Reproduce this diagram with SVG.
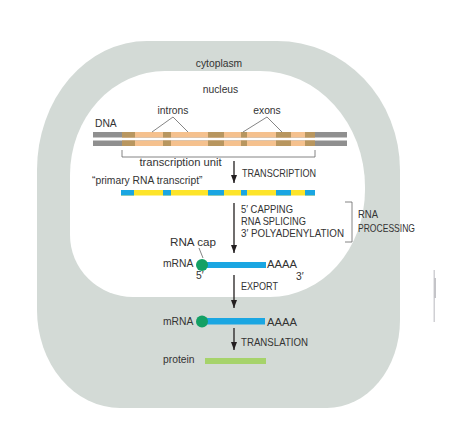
<svg xmlns="http://www.w3.org/2000/svg" width="460" height="428" viewBox="0 0 460 428">
<defs>
<style>
text{font-family:"Liberation Sans",Arial,sans-serif;fill:#333}
.lc{font-size:10.3px}
.cap{font-size:10.2px}
.lead{stroke:#666;stroke-width:0.8;fill:none}
.arrow{stroke:#231f20;stroke-width:1.3;fill:none;marker-end:url(#ah)}
.dna-gray{fill:#8f8f8f}
.dna-peach{fill:#f5c18e}
.dna-exon{fill:#b8965f}
.exon{fill:#1aa6e2}
.intron{fill:#fde42a}
.cap5{fill:#13a064}
</style>
<marker id="ah" viewBox="0 0 8 6" refX="8" refY="3" markerWidth="8" markerHeight="6" markerUnits="userSpaceOnUse" orient="auto"><path d="M0,0 L8,3 L0,6 Z" fill="#231f20"/></marker>
</defs>
<rect width="460" height="428" fill="#fff"/>
<g id="cytoplasm">
<path d="M147,41 H277 A123,129 0 0 1 400,170 V320 A73,88 0 0 1 327,408 H120 A83,98 0 0 1 37,310 V170 A110,129 0 0 1 147,41 Z" fill="#d3dad6"/>
<text class="lc" x="219" y="67" text-anchor="middle">cytoplasm</text>
</g>
<g id="nucleus">
<path d="M165,71 H260 A105,116 0 0 1 365,187 V190 A95,107 0 0 1 270,297 H133 A63,62 0 0 1 70,235 V175 A95,104 0 0 1 165,71 Z" fill="#fff"/>
<text class="lc" x="220.5" y="93" text-anchor="middle">nucleus</text>
</g>
<g id="dna">
<text class="lc" x="95" y="127">DNA</text>
<g>
<rect class="dna-gray" x="93" y="132" width="254" height="5.5"/>
<rect class="dna-gray" x="93" y="140.5" width="254" height="5.5"/>
<rect class="dna-peach" x="122" y="132" width="193" height="5.5"/>
<rect class="dna-peach" x="122" y="140.5" width="193" height="5.5"/>
<g class="dna-exon">
<rect x="122" y="132" width="13" height="5.5"/><rect x="122" y="140.5" width="13" height="5.5"/>
<rect x="163" y="132" width="8" height="5.5"/><rect x="163" y="140.5" width="8" height="5.5"/>
<rect x="208" y="132" width="16" height="5.5"/><rect x="208" y="140.5" width="16" height="5.5"/>
<rect x="241" y="132" width="6" height="5.5"/><rect x="241" y="140.5" width="6" height="5.5"/>
<rect x="276" y="132" width="15" height="5.5"/><rect x="276" y="140.5" width="15" height="5.5"/>
<rect x="305" y="132" width="10" height="5.5"/><rect x="305" y="140.5" width="10" height="5.5"/>
</g>
</g>
<text class="lc" x="173" y="114" text-anchor="middle">introns</text>
<path class="lead" d="M152,132 L173,117 L188,132"/>
<text class="lc" x="267" y="114" text-anchor="middle">exons</text>
<path class="lead" d="M243,132 L267,117 L282,132"/>
<path class="lead" d="M122,150 V157 H315 V150"/>
<text class="lc" x="139.5" y="166" textLength="82" lengthAdjust="spacingAndGlyphs">transcription unit</text>
</g>
<g id="primary-transcript">
<text class="lc" x="92" y="184">“primary RNA transcript”</text>
<rect class="intron" x="121" y="190" width="194" height="5.5"/>
<g class="exon">
<rect x="121" y="190" width="13" height="5.5"/>
<rect x="163" y="190" width="8" height="5.5"/>
<rect x="208" y="190" width="16" height="5.5"/>
<rect x="241" y="190" width="6" height="5.5"/>
<rect x="276" y="190" width="15" height="5.5"/>
<rect x="305" y="190" width="10" height="5.5"/>
</g>
</g>
<g id="processing-labels">
<text class="cap" x="241" y="213" textLength="52" lengthAdjust="spacingAndGlyphs">5′ CAPPING</text>
<text class="cap" x="241" y="225" textLength="65" lengthAdjust="spacingAndGlyphs">RNA SPLICING</text>
<text class="cap" x="241" y="237" textLength="103" lengthAdjust="spacingAndGlyphs">3′ POLYADENYLATION</text>
<path class="lead" d="M345,202 H352 V242 H345"/>
<text class="cap" x="358" y="218" textLength="20" lengthAdjust="spacingAndGlyphs">RNA</text>
<text class="cap" x="358" y="232" textLength="57" lengthAdjust="spacingAndGlyphs">PROCESSING</text>
</g>
<g id="nuclear-mrna">
<text class="lc" x="170" y="246" textLength="46" lengthAdjust="spacingAndGlyphs">RNA cap</text>
<path class="lead" d="M199,248 L203,258"/>
<text class="lc" x="163" y="267">mRNA</text>
<rect class="exon" x="202" y="262" width="64" height="6"/>
<circle class="cap5" cx="202" cy="265" r="6"/>
<text class="lc" x="267" y="268" textLength="30" lengthAdjust="spacingAndGlyphs">AAAA</text>
<text class="lc" x="196" y="279">5′</text>
<text class="lc" x="296" y="280">3′</text>
</g>
<g id="cyto-mrna">
<text class="lc" x="163" y="325">mRNA</text>
<rect class="exon" x="202" y="318" width="63" height="6.5"/>
<circle class="cap5" cx="202" cy="321.5" r="6"/>
<text class="lc" x="267" y="325.5" textLength="30" lengthAdjust="spacingAndGlyphs">AAAA</text>
</g>
<g id="protein">
<text class="lc" x="163" y="363">protein</text>
<rect x="205" y="358" width="61" height="6" fill="#a6d36b"/>
</g>
<g id="connectors">
<line class="arrow" x1="234" y1="161" x2="234" y2="183"/>
<text class="cap" x="242" y="177" textLength="74" lengthAdjust="spacingAndGlyphs">TRANSCRIPTION</text>
<line class="arrow" x1="234" y1="203" x2="234" y2="253"/>
<line class="arrow" x1="234" y1="275" x2="234" y2="308"/>
<text class="cap" x="241" y="290" textLength="37" lengthAdjust="spacingAndGlyphs">EXPORT</text>
<line class="arrow" x1="234" y1="328" x2="234" y2="350"/>
<text class="cap" x="241" y="346" textLength="67" lengthAdjust="spacingAndGlyphs">TRANSLATION</text>
</g>
<rect x="433.5" y="270" width="1.5" height="52" fill="#d0d0d4"/>
<rect x="434" y="278" width="2" height="20" fill="#c4c4c8"/>
</svg>
